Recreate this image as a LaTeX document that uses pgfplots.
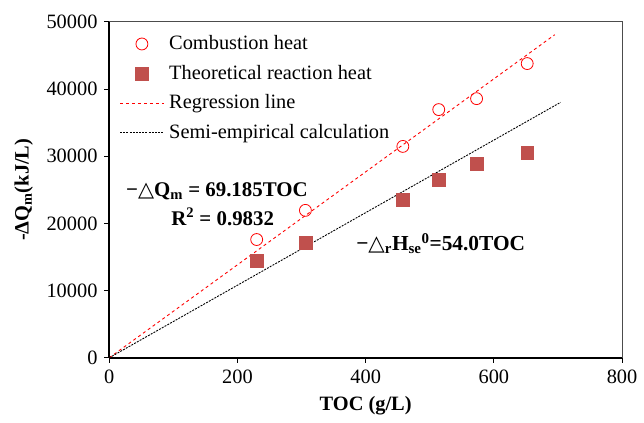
\documentclass[border=0pt]{standalone}
\usepackage{fontspec}
\setmainfont{Liberation Serif}
\newfontfamily\sym{DejaVu Sans}
\usepackage{pgfplots}
\pgfplotsset{compat=1.18}

\definecolor{sqred}{RGB}{192,80,77}

\begin{document}
\fontsize{20}{24}\selectfont
\begin{tikzpicture}
\begin{axis}[
    scale only axis,
    width=516pt, height=338pt,
    xmin=0, xmax=800, ymin=0, ymax=50000,
    xtick={0,200,400,600,800},
    ytick={0,10000,20000,30000,40000,50000},
    axis x line*=bottom, axis y line*=left,
    axis line style={-, line width=1.6pt},
    tick align=outside, major tick length=5pt,
    tick style={black, line width=0.8pt},
    scaled ticks=false,
    /pgf/number format/.cd, 1000 sep={}, assume math mode=true,
    /pgfplots/.cd,
    tick label style={font=\fontsize{20.5}{24}\selectfont},
    xlabel={\textbf{TOC (g/L)}},
    ylabel={\textbf{-ΔQ\textsubscript{m}(kJ/L)}},
    label style={font=\fontsize{20.5}{24}\selectfont},
    legend style={draw=none, fill=none, at={(0.014,0.972)}, anchor=north west,
        font=\fontsize{20.5}{24}\selectfont, row sep=8.5pt,
        nodes={inner xsep=5pt}},
    legend cell align=left,
    legend image code/.code={\draw[mark repeat=2,mark phase=2,#1] plot coordinates {(0pt,0pt) (22pt,0pt) (44pt,0pt)};},
    clip=false,
]
\addplot[only marks, mark=o, mark size=6pt, red, thick] coordinates {
    (230,17600) (306,21940) (458,31460) (514,36940) (573,38570) (652,43790)
};
\addlegendentry{Combustion heat}
\addplot[only marks, mark=square*, mark size=6.5pt, sqred] coordinates {
    (230,14390) (306,17160) (458,23480) (514,26480) (573,28850) (652,30580)
};
\addlegendentry{Theoretical reaction heat}
\addplot[red, dashed, line width=0.9pt] coordinates {(0,0) (695,48084)};
\addlegendentry{Regression line}
\addplot[black, dash pattern=on 2pt off 1.2pt, line width=0.9pt] coordinates {(0,0) (704,38016)};
\addlegendentry{Semi-empirical calculation}

\draw[gray!60!black, line width=0.9pt] (rel axis cs:0,1) -- (rel axis cs:1,1) -- (rel axis cs:1,0);

\node[font=\bfseries\fontsize{21}{24}\selectfont] at (axis cs:168,24850) {−{\sym △}Q\textsubscript{m} = 69.185TOC};
\node[font=\bfseries\fontsize{21}{24}\selectfont] at (axis cs:177,21000) {R\textsuperscript{2} = 0.9832};
\node[font=\bfseries\fontsize{21.5}{24}\selectfont] at (axis cs:517,17000) {−{\sym △}\textsubscript{r}H\textsubscript{se}\textsuperscript{0}=54.0TOC};

\path (rel axis cs:-0.213,-0.180) rectangle (rel axis cs:1.035,1.065);
\end{axis}
\end{tikzpicture}
\end{document}
